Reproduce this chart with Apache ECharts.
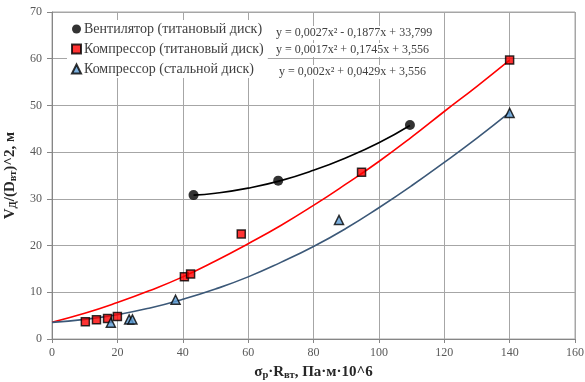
<!DOCTYPE html>
<html><head><meta charset="utf-8">
<script src="https://cdn.jsdelivr.net/npm/echarts@6/dist/echarts.min.js"></script>
<style>html,body{margin:0;padding:0;background:#fff}#c{width:585px;height:382px}</style>
</head><body><div id="c"></div>
<script>
// Scatter data
const ventX = [43.3, 69.2, 109.5];
const ventY = [30.8, 33.9, 45.8];
const compTiX = [10.2, 13.6, 17.0, 20.0, 40.5, 42.4, 57.9, 94.7, 140];
const compTiY = [3.7, 4.1, 4.4, 4.8, 13.3, 13.9, 22.5, 35.7, 59.7];
const compStX = [18.0, 23.6, 24.6, 37.8, 87.8, 140];
const compStY = [3.5, 4.2, 4.2, 8.4, 25.5, 48.4];
// Trend curves
const ventTrendX = [43.3, 50, 60, 70, 80, 90, 100, 109.5];
const ventTrendY = [30.8, 31.2, 32.3, 33.9, 36.1, 38.8, 42.0, 45.7];
const tiTrendX = [0, 10, 20, 30, 40, 50, 60, 70, 80, 90, 100, 110, 120, 130, 140];
const tiTrendY = [3.6, 5.5, 7.8, 10.4, 13.3, 16.7, 20.4, 24.3, 28.6, 33.2, 38.0, 43.2, 48.7, 54.1, 59.7];
const stTrendX = [0, 10, 20, 30, 40, 50, 60, 70, 80, 90, 100, 110, 120, 130, 140];
const stTrendY = [3.56, 4.2, 5.2, 6.65, 8.5, 10.7, 13.3, 16.4, 19.8, 23.7, 28.1, 32.8, 37.8, 43.0, 48.5];
const names = ['Вентилятор (титановый диск)', 'Компрессор (титановый диск)', 'Компрессор (стальной диск)'];
const equations = ['y = 0,0027x² - 0,1877x + 33,799', 'y = 0,0017x² + 0,1745x + 3,556', 'y = 0,002x² + 0,0429x + 3,556'];

const zip = (a, b) => a.map((v, i) => [v, b[i]]);
const serif = 'Liberation Serif';
const nameRich = {
  a: { fontFamily: serif, fontSize: 15, fontWeight: 'bold', color: '#262626' },
  s: { fontFamily: serif, fontSize: 10.5, fontWeight: 'bold', color: '#262626', verticalAlign: 'bottom', padding: [6, 0, 0, 0] }
};
const chart = echarts.init(document.getElementById('c'));
chart.setOption({
  animation: false,
  grid: { left: 52, right: 10, top: 12, bottom: 43, show: true, borderColor: '#a6a6a6', borderWidth: 1,
          containLabel: false, outerBoundsMode: 'none' },
  xAxis: {
    type: 'value', min: 0, max: 160, interval: 20,
    axisLine: { show: true, lineStyle: { color: '#868686' } },
    axisTick: { show: true, length: 4, lineStyle: { color: '#868686' } },
    splitLine: { show: true, lineStyle: { color: '#a6a6a6' } },
    axisLabel: { color: '#595959', fontFamily: serif, fontSize: 12, margin: 8 },
    name: '{a|σ}{s|р}{a|·R}{s|вт}{a|, Па·м·10^6}', nameLocation: 'middle', nameGap: 25,
    nameTextStyle: { rich: nameRich }
  },
  yAxis: {
    type: 'value', min: 0, max: 70, interval: 10,
    axisLine: { show: true, lineStyle: { color: '#868686' } },
    axisTick: { show: true, length: 5, lineStyle: { color: '#868686' } },
    splitLine: { show: true, lineStyle: { color: '#a6a6a6' } },
    axisLabel: { color: '#595959', fontFamily: serif, fontSize: 12, margin: 10 },
    name: '{a|V}{s|Д}{a|/(D}{s|вт}{a|)^2, м}', nameLocation: 'middle', nameGap: 26, nameRotate: 90,
    nameTextStyle: { rich: nameRich }
  },
  legend: {
    data: names, orient: 'vertical', left: 67, top: 20, itemGap: 6,
    itemWidth: 9, itemHeight: 9, backgroundColor: '#fff', padding: [2, 4, 2, 4],
    textStyle: { fontFamily: serif, fontSize: 14, color: '#404040', padding: [0, 0, 0, -2] }
  },
  series: [
    { type: 'line', data: zip(ventTrendX, ventTrendY), smooth: true, showSymbol: false, lineStyle: { color: '#000', width: 1.6 }, z: 2, silent: true },
    { type: 'line', data: zip(tiTrendX, tiTrendY), smooth: true, showSymbol: false, lineStyle: { color: '#ff0000', width: 1.6 }, z: 2, silent: true },
    { type: 'line', data: zip(stTrendX, stTrendY), smooth: true, showSymbol: false, lineStyle: { color: '#3b5878', width: 1.6 }, z: 2, silent: true },
    { name: names[0], type: 'scatter', data: zip(ventX, ventY), symbol: 'circle', symbolSize: 10,
      itemStyle: { color: '#000' }, z: 5 },
    { name: names[1], type: 'scatter', data: zip(compTiX, compTiY), symbol: 'rect', symbolSize: 8,
      itemStyle: { color: '#ff0000', borderColor: '#000', borderWidth: 1.5 }, z: 5 },
    { name: names[2], type: 'scatter', data: zip(compStX, compStY), symbol: 'triangle', symbolSize: 9,
      itemStyle: { color: '#5b9bd5', borderColor: '#000', borderWidth: 1.5 }, z: 5 }
  ],
  graphic: [
    { type: 'text', left: 274, top: 26, z: 10, style: { text: equations[0], font: '12px "Liberation Serif"', fill: '#404040', backgroundColor: '#fff', padding: [1, 2] } },
    { type: 'text', left: 274, top: 43, z: 10, style: { text: equations[1], font: '12px "Liberation Serif"', fill: '#404040', backgroundColor: '#fff', padding: [1, 2] } },
    { type: 'text', left: 277, top: 65, z: 10, style: { text: equations[2], font: '12px "Liberation Serif"', fill: '#404040', backgroundColor: '#fff', padding: [1, 2] } }
  ]
});
</script></body></html>
